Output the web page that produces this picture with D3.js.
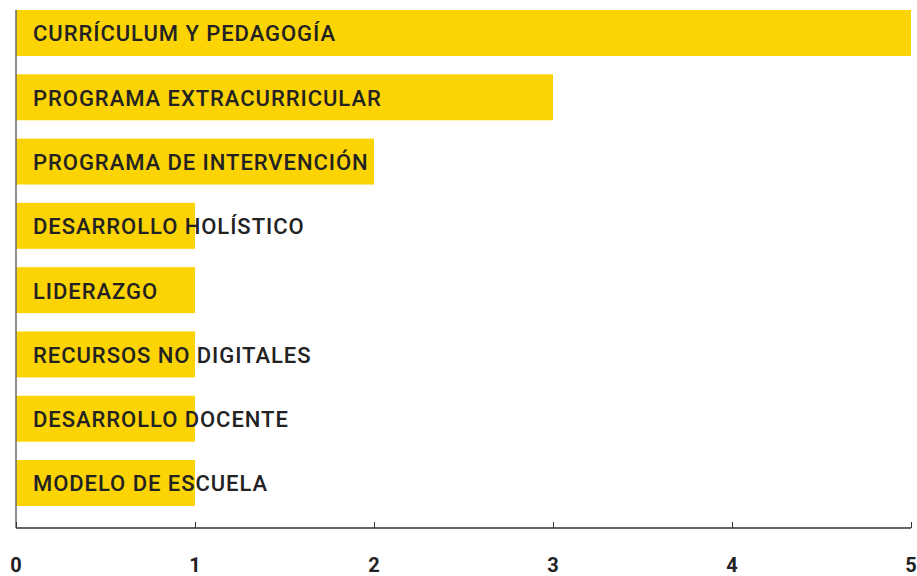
<!DOCTYPE html>
<html>
<head>
<meta charset="utf-8">
<script src="https://cdn.jsdelivr.net/npm/d3@7"></script>
<style>
  body { margin: 0; background: #fff; }
  svg { display: block; }
  text { font-family: Roboto, "Open Sans", sans-serif; }
</style>
</head>
<body>
<script>
var categories = [
  "CURRÍCULUM Y PEDAGOGÍA",
  "PROGRAMA EXTRACURRICULAR",
  "PROGRAMA DE INTERVENCIÓN",
  "DESARROLLO HOLÍSTICO",
  "LIDERAZGO",
  "RECURSOS NO DIGITALES",
  "DESARROLLO DOCENTE",
  "MODELO DE ESCUELA"
];
var values = [5, 3, 2, 1, 1, 1, 1, 1];
var ticks = [0, 1, 2, 3, 4, 5];

var fullwidth = 917, fullheight = 576;

// scales
var x = d3.scaleLinear().domain([0, 5]).range([16, 911]);
var y = d3.scaleBand().domain(categories).range([10, 506]).paddingInner(0.285).paddingOuter(0);

var svg = d3.select("body").append("svg")
    .attr("width", fullwidth)
    .attr("height", fullheight);

// bars
svg.selectAll(".bar")
    .data(categories)
  .enter().append("rect")
    .attr("class", "bar")
    .attr("x", x(0))
    .attr("y", function(d) { return y(d); })
    .attr("width", function(d, i) { return x(values[i]) - x(0); })
    .attr("height", y.bandwidth())
    .style("fill", "#fcd303");

// left line
svg.append("line")
    .attr("x1", x(0)).attr("x2", x(0))
    .attr("y1", 10).attr("y2", 528)
    .style("stroke", "#6b6b6b")
    .style("stroke-width", 1.5);

// x axis with ticks pointing up
var axis = svg.append("g")
    .attr("transform", "translate(0,528)")
    .call(d3.axisTop(x).tickValues(ticks).tickSize(6).tickFormat(""));
axis.select(".domain").attr("d", "M" + x(0) + ",0H" + x(5)).style("stroke", "#333").style("stroke-width", 1.5);
axis.selectAll(".tick line").style("stroke", "#333");

// tick labels
svg.selectAll(".tlabel")
    .data(ticks)
  .enter().append("text")
    .attr("class", "tlabel")
    .attr("x", function(d) { return x(d); })
    .attr("y", 572)
    .style("text-anchor", "middle")
    .style("font-size", "20px")
    .style("font-weight", 700)
    .style("fill", "#222")
    .text(function(d) { return d; });

// category labels
svg.selectAll(".label")
    .data(categories)
  .enter().append("text")
    .attr("class", "label")
    .attr("x", 33)
    .attr("y", function(d) { return y(d) + y.bandwidth() / 2; })
    .attr("dy", "0.38em")
    .style("font-size", "22px")
    .style("font-weight", 500)
    .style("letter-spacing", "0.95px")
    .style("fill", "#222")
    .text(function(d) { return d; });
</script>
</body>
</html>
